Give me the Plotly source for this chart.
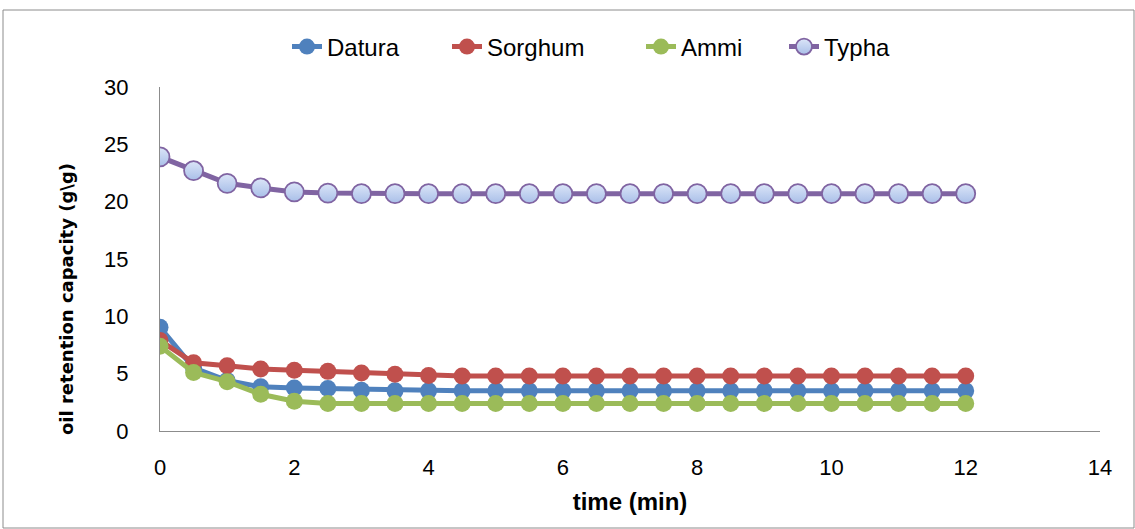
import plotly.graph_objects as go

time_min = [0, 0.5, 1, 1.5, 2, 2.5, 3, 3.5, 4, 4.5, 5, 5.5, 6, 6.5, 7, 7.5, 8, 8.5, 9, 9.5, 10, 10.5, 11, 11.5, 12]
datura = [9.05, 5.5, 4.4, 3.85, 3.75, 3.7, 3.55, 3.5, 3.5, 3.5, 3.5, 3.5, 3.5, 3.5, 3.5, 3.5, 3.5, 3.5, 3.5, 3.5, 3.5, 3.5, 3.5, 3.5, 3.5]
sorghum = [7.9, 5.95, 5.7, 5.4, 5.3, 5.2, 5.05, 4.95, 4.85, 4.8, 4.8, 4.8, 4.8, 4.8, 4.8, 4.8, 4.8, 4.8, 4.8, 4.8, 4.8, 4.8, 4.8, 4.8, 4.8]
ammi = [7.4, 5.1, 4.3, 3.2, 2.6, 2.4, 2.4, 2.4, 2.4, 2.4, 2.4, 2.4, 2.4, 2.4, 2.4, 2.4, 2.4, 2.4, 2.4, 2.4, 2.4, 2.4, 2.4, 2.4, 2.4]
typha = [23.9, 22.7, 21.6, 21.2, 20.85, 20.75, 20.7, 20.7, 20.7, 20.7, 20.7, 20.7, 20.7, 20.7, 20.7, 20.7, 20.7, 20.7, 20.7, 20.7, 20.7, 20.7, 20.7, 20.7, 20.7]

names = ["Datura", "Sorghum", "Ammi", "Typha"]
colors = ["#4f81bd", "#c0504d", "#9bbb59", "#8064a2"]

W, H = 1135, 529
ML, MR, MT, MB = 160, 35, 87, 98
pw = W - ML - MR
ph = H - MT - MB

font_fam = "Liberation Sans, Arial"
legend_ids = ["legend", "legend2", "legend3", "legend4"]
legend_text_px = [328, 488, 682, 825]

fig = go.Figure()
for i, (name, ys, col) in enumerate(zip(names[:3], [datura, sorghum, ammi], colors[:3])):
    fig.add_trace(go.Scatter(
        x=time_min, y=ys, name=name, mode="lines+markers", legend=legend_ids[i],
        line=dict(color=col, width=5),
        marker=dict(color=col, size=17, line=dict(width=0)),
    ))
fig.add_trace(go.Scatter(
    x=time_min, y=typha, name="Typha", mode="lines+markers", legend=legend_ids[3],
    line=dict(color=colors[3], width=5),
    marker=dict(color="#dbe5f8", size=19, line=dict(color=colors[3], width=1.8),
                gradient=dict(type="vertical", color="#a9bfe8")),
))

fig.add_shape(type="rect", xref="paper", yref="paper",
              x0=(3 - ML) / pw, x1=(W - 1 - ML) / pw,
              y0=-(H - 1 - (H - MB)) / ph,
              y1=(H - MB - 10) / ph,
              line=dict(color="#8c8c8c", width=1), layer="below")

fig.add_annotation(text="<b>oil retention capacity (g\\g)</b>", xref="paper", yref="paper",
                   x=(66 - ML) / pw, y=(H - MB - 299) / ph, textangle=-90,
                   showarrow=False, xanchor="center", yanchor="middle",
                   font=dict(size=18, family="DejaVu Sans, Verdana", color="black"))

legend_common = dict(orientation="h", y=1 + 40 / ph, yanchor="middle", xanchor="left",
                     font=dict(size=24, family=font_fam, color="black"),
                     bgcolor="rgba(0,0,0,0)")
layout_legends = {}
for lid, tpx in zip(legend_ids, legend_text_px):
    layout_legends[lid] = dict(legend_common, x=(tpx - 41 - ML) / pw)

fig.update_layout(
    width=W, height=H,
    margin=dict(l=ML, r=MR, t=MT, b=MB, autoexpand=False),
    paper_bgcolor="white", plot_bgcolor="white",
    font=dict(family=font_fam, size=22, color="black"),
    showlegend=True,
    **layout_legends,
    xaxis=dict(range=[0, 14], tickvals=[0, 2, 4, 6, 8, 10, 12, 14], showgrid=False,
               zeroline=False, showline=True, linecolor="#8c8c8c", linewidth=1.2,
               ticks="", ticklabelstandoff=16, tickfont=dict(size=22),
               title=dict(text="<b>time (min)</b>", font=dict(size=24, family=font_fam), standoff=14)),
    yaxis=dict(range=[0, 30], tickvals=[0, 5, 10, 15, 20, 25, 30], showgrid=False,
               zeroline=False, showline=True, linecolor="#8c8c8c", linewidth=1.2,
               ticks="", ticklabelstandoff=26, tickfont=dict(size=22)),
)

fig.write_html("out.html")
